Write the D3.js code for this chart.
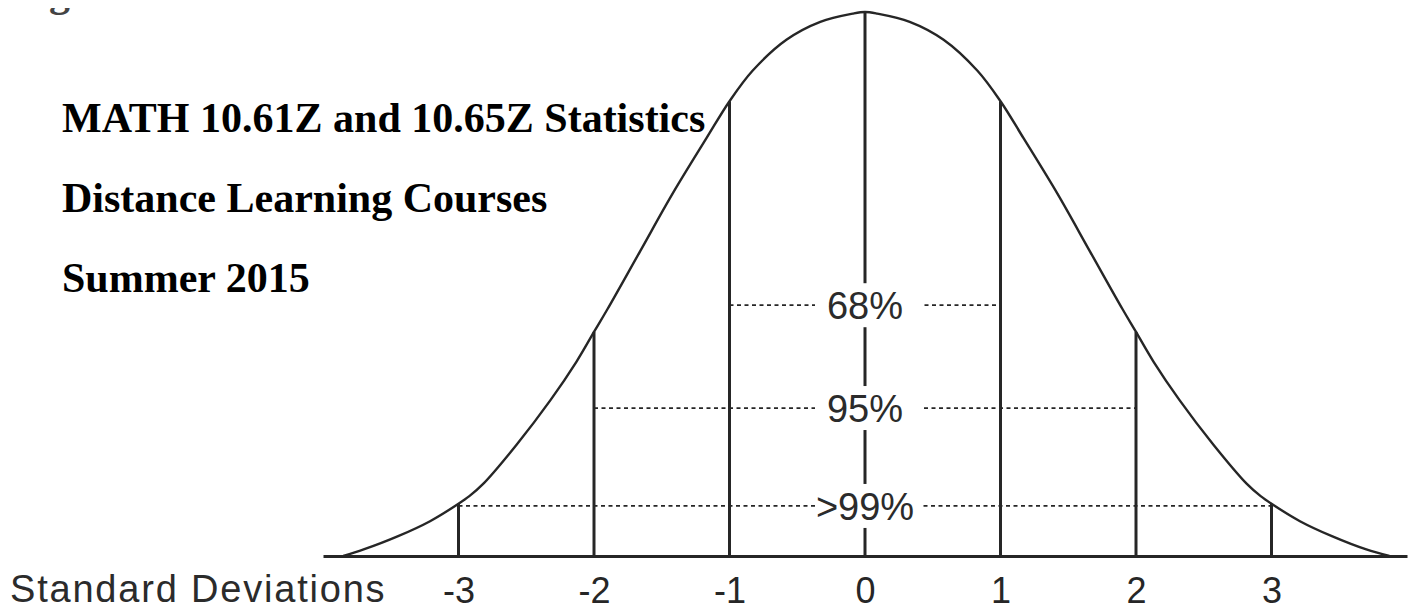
<!DOCTYPE html>
<html>
<head>
<meta charset="utf-8">
<script src="https://cdn.jsdelivr.net/npm/d3@7"></script>
<style>
body { margin: 0; background: #fff; }
.title { font-family: "Liberation Serif", "Times New Roman", serif; font-weight: bold; font-size: 42px; fill: #000; }
.sans { font-family: "Liberation Sans", Arial, Helvetica, sans-serif; fill: #2b2b2b; }
</style>
</head>
<body>
<div id="chart"></div>
<script>
// 1: DATA
// curve: x in standard deviations, h = height relative to the peak
const curveX = [-3.85, -3.70, -3.45, -3.21, -3.00, -2.92, -2.82, -2.57, -2.32, -2.13, -2.00, -1.90, -1.66, -1.42, -1.17, -1.00, -0.83, -0.58, -0.33, -0.09, 0,
                0.09, 0.33, 0.58, 0.83, 1.00, 1.17, 1.42, 1.66, 1.90, 2.00, 2.13, 2.32, 2.57, 2.82, 2.92, 3.00, 3.21, 3.45, 3.70, 3.87];
const curveH = [0, 0.012, 0.036, 0.064, 0.096, 0.110, 0.132, 0.205, 0.287, 0.357, 0.412, 0.454, 0.560, 0.666, 0.768, 0.836, 0.892, 0.949, 0.982, 0.997, 1,
                0.997, 0.982, 0.949, 0.892, 0.836, 0.768, 0.666, 0.560, 0.454, 0.412, 0.357, 0.287, 0.205, 0.132, 0.110, 0.096, 0.064, 0.036, 0.012, 0];

const sigmaTicks = [-3, -2, -1, 0, 1, 2, 3];
const sigmaH = [0.096, 0.412, 0.836, 1, 0.836, 0.412, 0.096];

const bandLabels = ["68%", "95%", ">99%"];
const bandSigma = [1, 2, 3];
const bandLevel = [0.461, 0.272, 0.092];

const titleLines = ["MATH 10.61Z and 10.65Z Statistics", "Distance Learning Courses", "Summer 2015"];
const axisLabel = "Standard Deviations";

// 2: SVG
const W = 1411, H = 610;
const svg = d3.select("#chart")
    .append("svg")
    .attr("width", W)
    .attr("height", H);

// 3: SCALES
const x = d3.scaleLinear().domain([-4, 4]).range([323, 1407]);
const y = d3.scaleLinear().domain([0, 1]).range([556, 12]);

const ink = "#262626";

// stray glyph cut off at the top of the page (only its bottom shows)
svg.append("clipPath")
    .attr("id", "topclip")
    .append("rect")
    .attr("x", 0).attr("y", 8).attr("width", 200).attr("height", 20);

svg.append("text")
    .attr("class", "title")
    .attr("clip-path", "url(#topclip)")
    .attr("x", 49)
    .attr("y", 6)
    .style("fill", "#444")
    .text("g");

// 4: TITLE
svg.selectAll(".title-line")
    .data(titleLines)
    .enter()
    .append("text")
    .attr("class", "title title-line")
    .attr("x", 62)
    .attr("y", (d, i) => 132 + i * 80)
    .text(d => d);

// 5: DOTTED BANDS
const bands = bandLabels.map((label, i) => ({ label, s: bandSigma[i], h: bandLevel[i] }));

svg.selectAll(".band")
    .data(bands)
    .enter()
    .append("line")
    .attr("class", "band")
    .attr("x1", d => x(-d.s))
    .attr("x2", d => x(d.s))
    .attr("y1", d => y(d.h))
    .attr("y2", d => y(d.h))
    .attr("stroke", ink)
    .attr("stroke-width", 1.8)
    .attr("stroke-dasharray", "4,3.5");

// 6: SIGMA LINES
const sigmas = sigmaTicks.map((s, i) => ({ s, h: sigmaH[i] }));

svg.selectAll(".sigma")
    .data(sigmas)
    .enter()
    .append("line")
    .attr("class", "sigma")
    .attr("x1", d => x(d.s))
    .attr("x2", d => x(d.s))
    .attr("y1", d => y(d.h))
    .attr("y2", y(0))
    .attr("stroke", ink)
    .attr("stroke-width", 3);

// white boxes so the labels cut the lines
svg.selectAll(".band-bg")
    .data(bands)
    .enter()
    .append("rect")
    .attr("x", x(0) - 50)
    .attr("y", d => y(d.h) - 22)
    .attr("width", 107)
    .attr("height", 44)
    .attr("fill", "#fff");

svg.selectAll(".band-label")
    .data(bands)
    .enter()
    .append("text")
    .attr("class", "sans band-label")
    .attr("x", x(0))
    .attr("y", d => y(d.h))
    .attr("dy", "0.36em")
    .attr("text-anchor", "middle")
    .style("font-size", "38px")
    .text(d => d.label);

// 7: CURVE
const pts = curveX.map((v, i) => ({ s: v, h: curveH[i] }));
const line = d3.line()
    .x(d => x(d.s))
    .y(d => y(d.h))
    .curve(d3.curveCatmullRom.alpha(0.5));

svg.append("path")
    .datum(pts)
    .attr("d", line)
    .attr("fill", "none")
    .attr("stroke", ink)
    .attr("stroke-width", 2.4);

// 8: AXIS
const axis = svg.append("g")
    .attr("transform", `translate(0,${y(0)})`)
    .call(d3.axisBottom(x)
        .tickValues(sigmaTicks)
        .tickFormat(d => String(d))
        .tickSizeInner(0)
        .tickSizeOuter(0)
        .tickPadding(21));

axis.select(".domain")
    .attr("stroke", ink)
    .attr("stroke-width", 3);

axis.selectAll("text")
    .attr("fill", ink)
    .style("font-family", "\"Liberation Sans\", Arial, Helvetica, sans-serif")
    .style("font-size", "36px");

svg.append("text")
    .attr("class", "sans")
    .attr("x", 10)
    .attr("y", 602)
    .style("font-size", "38px")
    .style("letter-spacing", "1.8px")
    .text(axisLabel);
</script>
</body>
</html>
